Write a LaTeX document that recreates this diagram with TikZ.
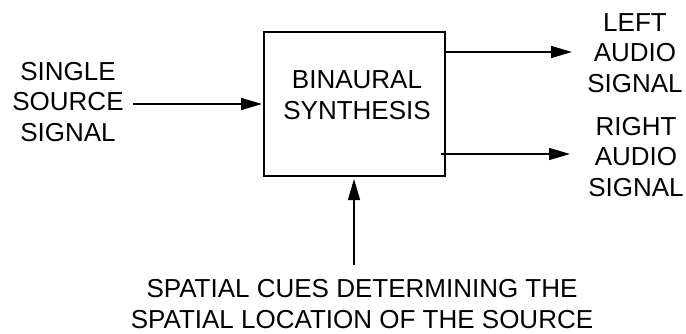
\documentclass[tikz,border=0pt]{standalone}
\usepackage{fontspec}
\setmainfont{Liberation Sans}
\usetikzlibrary{arrows.meta}
\begin{document}
\begin{tikzpicture}[x=1pt,y=1pt,
  lbl/.style={align=center,font=\fontsize{26}{30.5}\selectfont,inner sep=0pt},
  conn/.style={line width=1.5pt,-{Triangle[length=21pt,width=12pt]}}]
\useasboundingbox (0,0) rectangle (686,333);
\node[draw,line width=1.5pt,minimum width=181pt,minimum height=144pt,inner sep=0pt] (box) at (354.5,229) {};
\node[lbl] (boxt) at (357,238) {BINAURAL\\SYNTHESIS};
\node[lbl] (src) at (68,231) {SINGLE\\SOURCE\\SIGNAL};
\node[lbl] (left) at (635,280) {LEFT\\AUDIO\\SIGNAL};
\node[lbl] (right) at (636,176) {RIGHT\\AUDIO\\SIGNAL};
\node[lbl] (cues) at (362,29) {SPATIAL CUES DETERMINING THE\\SPATIAL LOCATION OF THE SOURCE};
\coordinate (inS) at (133,229);
\coordinate (inE) at (262,229);
\coordinate (lS) at (445,281);
\coordinate (lE) at (572,281);
\coordinate (rS) at (441,179);
\coordinate (rE) at (570,179);
\coordinate (bS) at (354,68);
\coordinate (bE) at (354,154);
\draw[conn] (inS) -- (inE);
\draw[conn] (lS) -- (lE);
\draw[conn] (rS) -- (rE);
\draw[conn] (bS) -- (bE);
\end{tikzpicture}
\end{document}
